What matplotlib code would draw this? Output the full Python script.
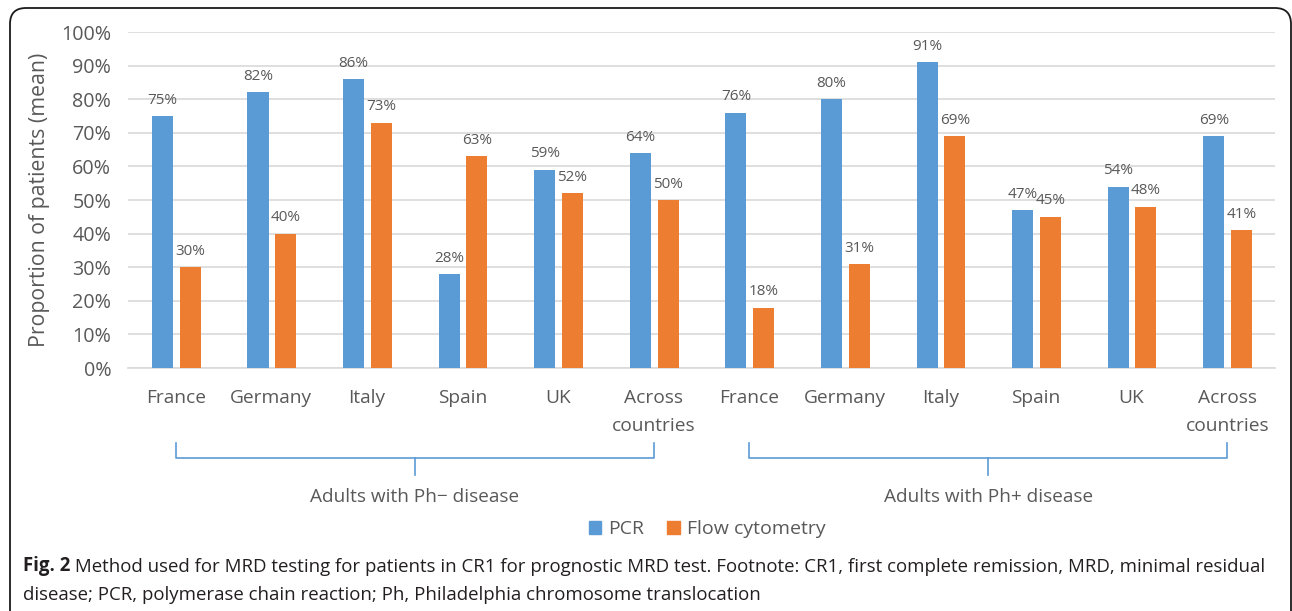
import numpy as np
import matplotlib
matplotlib.use("Agg")
import matplotlib.pyplot as plt
from matplotlib.patches import FancyBboxPatch, Patch
from matplotlib.transforms import IdentityTransform, blended_transform_factory

plt.rcParams['font.family'] = ['Open Sans', 'DejaVu Sans']

countries = ["France", "Germany", "Italy", "Spain", "UK", "Across\ncountries"]
groups = ["Adults with Ph\u2212 disease", "Adults with Ph+ disease"]
pcr = [75, 82, 86, 28, 59, 64, 76, 80, 91, 47, 54, 69]
flow = [30, 40, 73, 63, 52, 50, 18, 31, 69, 45, 48, 41]
yticks = [0, 10, 20, 30, 40, 50, 60, 70, 80, 90, 100]

BLUE = "#5B9BD5"
ORANGE = "#ED7D31"
GRAY = "#595959"
W, H = 1292, 611

fig = plt.figure(figsize=(W / 100, H / 100), dpi=100)

def fy(y):
    # pixel from top -> figure fraction
    return 1 - y / H

ax = fig.add_axes([128 / W, fy(368), (1275 - 128) / W, (368 - 32) / H])

x = np.arange(len(pcr))
bw = 0.22
b1 = ax.bar(x - 0.14, pcr, bw, color=BLUE, zorder=3)
b2 = ax.bar(x + 0.15, flow, bw, color=ORANGE, zorder=3)
for bars in (b1, b2):
    for r in bars:
        ax.annotate(f"{int(r.get_height())}%", (r.get_x() + r.get_width() / 2, r.get_height()),
                    xytext=(0, 6), textcoords="offset points", ha="center", va="bottom",
                    fontsize=11, color=GRAY)

ax.set_ylim(0, 100)
ax.set_xlim(-0.5, len(pcr) - 0.5)
ax.set_yticks(yticks)
ax.set_yticklabels([f"{v}%" for v in yticks], fontsize=14.2, color=GRAY)
ax.set_xticks(x)
ax.set_xticklabels(countries * 2, fontsize=13.8, color=GRAY, linespacing=1.7)
ax.tick_params(axis="both", length=0)
ax.tick_params(axis="x", pad=15)
ax.tick_params(axis="y", pad=12)
ax.yaxis.grid(True, color="#D9D9D9", lw=1.2, zorder=0)
for s in ["top", "right", "left"]:
    ax.spines[s].set_visible(False)
ax.spines["bottom"].set_color("#D9D9D9")
ax.spines["bottom"].set_linewidth(1.2)
ax.set_ylabel("Proportion of patients (mean)", fontsize=15.3, color=GRAY, va="center")
ax.yaxis.set_label_coords((40 - 128) / (1275 - 128), 0.5)

# group braces
tr = blended_transform_factory(ax.transData, fig.transFigure)
for g, name in enumerate(groups):
    x0, x1 = g * 6, g * 6 + 5
    xm = (x0 + x1) / 2
    ax.plot([x0, x0, x1, x1], [fy(443), fy(458), fy(458), fy(443)], transform=tr,
            color=BLUE, lw=1.2, clip_on=False, solid_joinstyle="round")
    ax.plot([xm, xm], [fy(458), fy(475)], transform=tr, color=BLUE, lw=1.2, clip_on=False)
    ax.text(xm, fy(497), name, transform=tr, ha="center", va="center", fontsize=13.7, color=GRAY)

handles = [Patch(color=BLUE, label="PCR"), Patch(color=ORANGE, label="Flow cytometry")]
fig.legend(handles=handles, loc="center", bbox_to_anchor=(707 / W, fy(529)), ncol=2,
           frameon=False, fontsize=14, handlelength=0.65, handleheight=0.65,
           handletextpad=0.35, columnspacing=1.2, labelcolor=GRAY)

# rounded frame (pixel coordinates, origin bottom-left)
frame = FancyBboxPatch((10, -40), 1281, H - 8 + 40, boxstyle="round,pad=0,rounding_size=16",
                       transform=IdentityTransform(), fill=False, ec="#1a1a1a", lw=1.3)
fig.patches.append(frame)

# caption
cap = "#231F20"
t1 = fig.text(23 / W, fy(576), "Fig. 2", fontsize=13.4, fontweight="bold", color=cap, va="bottom")
ax.annotate(" Method used for MRD testing for patients in CR1 for prognostic MRD test. "
            "Footnote: CR1, first complete remission, MRD, minimal residual",
            xy=(1, 0), xycoords=t1, va="bottom", ha="left", fontsize=13.4, color=cap,
            annotation_clip=False)
fig.text(23 / W, fy(604), "disease; PCR, polymerase chain reaction; Ph, Philadelphia chromosome translocation",
         fontsize=13.4, color=cap, va="bottom")

fig.savefig("out.png", dpi=100)
